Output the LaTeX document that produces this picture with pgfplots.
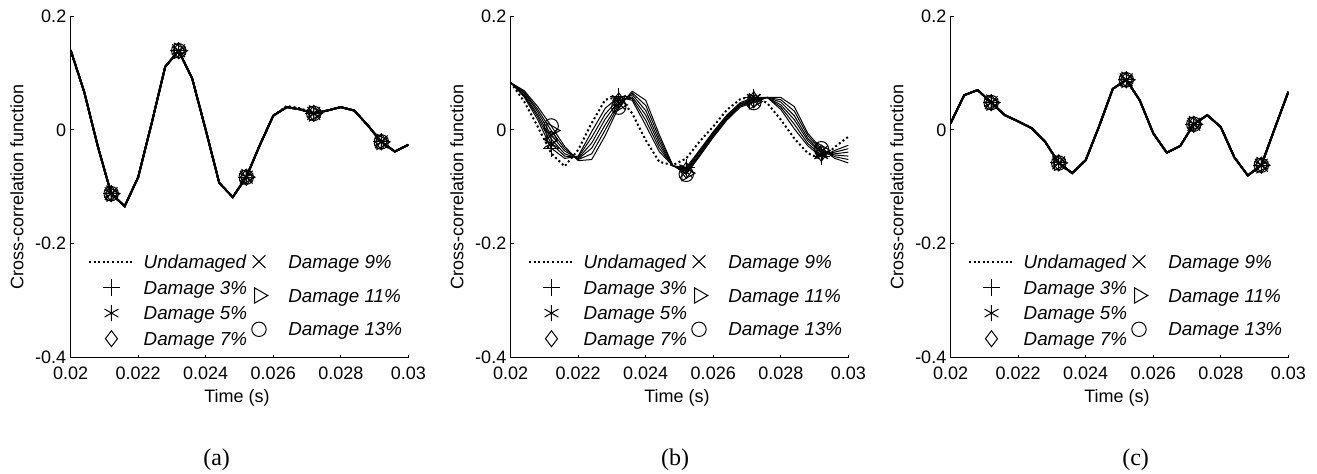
\documentclass[border=0pt]{standalone}
\usepackage{fontspec}
\setmainfont{Liberation Sans}
\newfontfamily\timesfont{Liberation Serif}
\usepackage{pgfplots}
\usepackage{pgfplotstable}
\pgfplotsset{compat=1.18}

\pgfplotstableread{
t u d
0.0200 0.140 0.140
0.0204 0.067 0.067
0.0208 -0.028 -0.028
0.0212 -0.112 -0.112
0.0216 -0.134 -0.134
0.0220 -0.083 -0.083
0.0224 0.012 0.012
0.0228 0.111 0.111
0.0232 0.139 0.139
0.0236 0.090 0.090
0.0240 0.000 0.000
0.0244 -0.093 -0.093
0.0248 -0.118 -0.118
0.0252 -0.083 -0.083
0.0256 -0.027 -0.027
0.0260 0.025 0.025
0.0264 0.042 0.040
0.0268 0.038 0.036
0.0272 0.029 0.029
0.0276 0.034 0.034
0.0280 0.040 0.040
0.0284 0.034 0.034
0.0288 0.008 0.008
0.0292 -0.021 -0.021
0.0296 -0.038 -0.038
0.0300 -0.026 -0.026
}\dataA

\pgfplotstableread{
t u d3 d5 d7 d9 d11 d13
0.0200 0.083 0.083 0.083 0.083 0.083 0.083 0.083
0.0204 0.050 0.058 0.060 0.062 0.065 0.067 0.069
0.0208 0.006 0.018 0.023 0.027 0.032 0.036 0.041
0.0212 -0.041 -0.032 -0.024 -0.016 -0.009 -0.001 0.007
0.0216 -0.064 -0.050 -0.046 -0.042 -0.037 -0.033 -0.029
0.0220 -0.035 -0.046 -0.048 -0.050 -0.051 -0.052 -0.054
0.0224 0.012 -0.003 -0.013 -0.023 -0.032 -0.042 -0.052
0.0228 0.053 0.038 0.028 0.019 0.009 0.000 -0.010
0.0232 0.058 0.058 0.054 0.051 0.047 0.044 0.040
0.0236 0.029 0.052 0.055 0.058 0.062 0.065 0.068
0.0240 -0.018 0.008 0.017 0.026 0.034 0.043 0.052
0.0244 -0.056 -0.038 -0.032 -0.026 -0.020 -0.014 -0.008
0.0248 -0.062 -0.063 -0.063 -0.063 -0.063 -0.062 -0.062
0.0252 -0.050 -0.066 -0.068 -0.071 -0.073 -0.076 -0.078
0.0256 -0.020 -0.035 -0.037 -0.039 -0.042 -0.044 -0.046
0.0260 0.006 -0.003 -0.005 -0.007 -0.009 -0.011 -0.013
0.0264 0.035 0.026 0.024 0.022 0.021 0.019 0.017
0.0268 0.054 0.048 0.046 0.045 0.043 0.042 0.040
0.0272 0.060 0.057 0.055 0.053 0.052 0.050 0.048
0.0276 0.047 0.057 0.057 0.057 0.057 0.057 0.057
0.0280 0.018 0.036 0.040 0.044 0.049 0.053 0.057
0.0284 -0.015 0.002 0.010 0.018 0.025 0.033 0.041
0.0288 -0.041 -0.028 -0.024 -0.019 -0.015 -0.010 -0.006
0.0292 -0.051 -0.047 -0.044 -0.041 -0.039 -0.036 -0.033
0.0296 -0.030 -0.036 -0.039 -0.042 -0.044 -0.047 -0.050
0.0300 -0.012 -0.027 -0.033 -0.039 -0.046 -0.052 -0.058
}\dataB

\pgfplotstableread{
t u d
0.0200 0.012 0.012
0.0204 0.061 0.061
0.0208 0.070 0.070
0.0212 0.048 0.048
0.0216 0.026 0.026
0.0220 0.015 0.015
0.0224 0.003 0.003
0.0228 -0.021 -0.021
0.0232 -0.058 -0.058
0.0236 -0.076 -0.076
0.0240 -0.053 -0.053
0.0244 0.007 0.007
0.0248 0.072 0.072
0.0252 0.088 0.088
0.0256 0.052 0.052
0.0260 -0.006 -0.006
0.0264 -0.040 -0.040
0.0268 -0.028 -0.028
0.0272 0.010 0.010
0.0276 0.026 0.026
0.0280 0.005 0.005
0.0284 -0.048 -0.048
0.0288 -0.080 -0.080
0.0292 -0.062 -0.062
0.0296 0.003 0.003
0.0300 0.067 0.067
}\dataC

\pgfplotsset{
  panel/.style={
    scale only axis, width=168.83pt, height=170.83pt, anchor=south west,
    xmin=0.02, xmax=0.03, ymin=-0.4, ymax=0.2,
    scaled x ticks=false, scaled y ticks=false,
    axis x line=bottom, axis y line=left,
    axis line style={-, line width=0.6pt, black},
    xtick={0.02,0.022,0.024,0.026,0.028,0.03},
    xticklabels={0.02,0.022,0.024,0.026,0.028,0.03},
    ytick={-0.4,-0.2,0,0.2}, yticklabels={-0.4,-0.2,0,0.2},
    tick align=inside, major tick length=1.5pt,
    tick style={black, line width=0.5pt},
    ticklabel style={font=\fontsize{9}{10}\selectfont},
    xticklabel style={inner sep=0pt, anchor=north, yshift=-4.65pt},
    yticklabel style={inner sep=0pt, anchor=east, xshift=-2pt},
    xlabel={Time (s)}, ylabel={Cross-correlation function},
    label style={font=\fontsize{9}{10}\selectfont},
    xlabel style={at={(axis description cs:0.4926,-0.117)}, anchor=center},
    ylabel style={at={(axis description cs:-0.159,0.5)}, anchor=center},
    legend image code/.code={\path[draw=none,fill=none] (0pt,-0.8pt) rectangle (22.5pt,7.4pt);
      \draw[mark repeat=2,mark phase=2,##1] plot coordinates {(0pt,3.3pt) (11.25pt,3.3pt) (22.5pt,3.3pt)};},
    legend cell align=left,
    legend style={draw=none, fill=none, inner sep=0pt, outer sep=0pt,
      anchor=north west, font=\itshape\fontsize{9.4}{10}\selectfont,
      cells={anchor=base west},
      nodes={inner sep=0pt, text height=7.4pt, text depth=1.9pt}},
  },
  leg1/.style={legend style={at={(axis description cs:0.0513,0.305)}, row sep=3.5pt,
      /tikz/every odd column/.append style={column sep=4.35pt}}},
  leg2/.style={hide axis, legend style={at={(axis description cs:0.4911,0.305)}, row sep=7.6pt,
      /tikz/every odd column/.append style={column sep=3.4pt}}},
  undam/.style={black, line width=1pt, dash pattern=on 1pt off 1.3pt},
  dmg/.style={black, line width=#1, mark repeat=5, mark phase=4},
  mP/.style={mark=+, mark size=4.2pt, mark options={solid, line width=0.5pt}},
  mA/.style={mark=asterisk, mark size=4.0pt, mark options={solid, line width=0.5pt}},
  mD/.style={mark=diamond, mark size=4.0pt, mark options={solid, line width=0.5pt}},
  mX/.style={mark=x, mark size=4.5pt, mark options={solid, line width=0.5pt}},
  mT/.style={mark=triangle, mark size=4.4pt, mark options={solid, line width=0.5pt, rotate=-90}},
  mO/.style={mark=o, mark size=3.6pt, mark options={solid, line width=0.5pt}},
  lgm/.style={only marks, black, #1},
}

\begin{document}
\begin{tikzpicture}
\useasboundingbox (0,0) rectangle (658.5pt,237pt);

% ---------- (a) ----------
\begin{axis}[panel, leg1, at={(35.33pt,58.15pt)}]
\addplot[undam, forget plot] table[x=t,y=u]{\dataA};
\addplot[dmg=0.9pt, mP, forget plot] table[x=t,y=d]{\dataA};
\addplot[dmg=0.9pt, mA, forget plot] table[x=t,y=d]{\dataA};
\addplot[dmg=0.9pt, mD, forget plot] table[x=t,y=d]{\dataA};
\addplot[dmg=0.9pt, mX, forget plot] table[x=t,y=d]{\dataA};
\addplot[dmg=0.9pt, mT, forget plot] table[x=t,y=d]{\dataA};
\addplot[dmg=0.9pt, mO, forget plot] table[x=t,y=d]{\dataA};
\addlegendimage{undam}\addlegendentry{Undamaged}
\addlegendimage{lgm=mP}\addlegendentry{Damage 3\%}
\addlegendimage{lgm=mA}\addlegendentry{Damage 5\%}
\addlegendimage{lgm=mD}\addlegendentry{Damage 7\%}
\end{axis}
\begin{axis}[panel, leg2, at={(35.33pt,58.15pt)}]
\addlegendimage{lgm=mX}\addlegendentry{Damage 9\%}
\addlegendimage{lgm=mT}\addlegendentry{Damage 11\%}
\addlegendimage{lgm=mO}\addlegendentry{Damage 13\%}
\end{axis}

% ---------- (b) ----------
\begin{axis}[panel, leg1, at={(255.33pt,58.15pt)}]
\addplot[undam, forget plot] table[x=t,y=u]{\dataB};
\addplot[dmg=0.5pt, mP, forget plot] table[x=t,y=d3]{\dataB};
\addplot[dmg=0.5pt, mA, forget plot] table[x=t,y=d5]{\dataB};
\addplot[dmg=0.5pt, mD, forget plot] table[x=t,y=d7]{\dataB};
\addplot[dmg=0.5pt, mX, forget plot] table[x=t,y=d9]{\dataB};
\addplot[dmg=0.5pt, mT, forget plot] table[x=t,y=d11]{\dataB};
\addplot[dmg=0.5pt, mO, forget plot] table[x=t,y=d13]{\dataB};
\addlegendimage{undam}\addlegendentry{Undamaged}
\addlegendimage{lgm=mP}\addlegendentry{Damage 3\%}
\addlegendimage{lgm=mA}\addlegendentry{Damage 5\%}
\addlegendimage{lgm=mD}\addlegendentry{Damage 7\%}
\end{axis}
\begin{axis}[panel, leg2, at={(255.33pt,58.15pt)}]
\addlegendimage{lgm=mX}\addlegendentry{Damage 9\%}
\addlegendimage{lgm=mT}\addlegendentry{Damage 11\%}
\addlegendimage{lgm=mO}\addlegendentry{Damage 13\%}
\end{axis}

% ---------- (c) ----------
\begin{axis}[panel, leg1, at={(475.33pt,58.15pt)}]
\addplot[undam, forget plot] table[x=t,y=u]{\dataC};
\addplot[dmg=0.9pt, mP, forget plot] table[x=t,y=d]{\dataC};
\addplot[dmg=0.9pt, mA, forget plot] table[x=t,y=d]{\dataC};
\addplot[dmg=0.9pt, mD, forget plot] table[x=t,y=d]{\dataC};
\addplot[dmg=0.9pt, mX, forget plot] table[x=t,y=d]{\dataC};
\addplot[dmg=0.9pt, mT, forget plot] table[x=t,y=d]{\dataC};
\addplot[dmg=0.9pt, mO, forget plot] table[x=t,y=d]{\dataC};
\addlegendimage{undam}\addlegendentry{Undamaged}
\addlegendimage{lgm=mP}\addlegendentry{Damage 3\%}
\addlegendimage{lgm=mA}\addlegendentry{Damage 5\%}
\addlegendimage{lgm=mD}\addlegendentry{Damage 7\%}
\end{axis}
\begin{axis}[panel, leg2, at={(475.33pt,58.15pt)}]
\addlegendimage{lgm=mX}\addlegendentry{Damage 9\%}
\addlegendimage{lgm=mT}\addlegendentry{Damage 11\%}
\addlegendimage{lgm=mO}\addlegendentry{Damage 13\%}
\end{axis}

\node[font=\timesfont\fontsize{12}{12}\selectfont] at (108.3pt,7pt) {(a)};
\node[font=\timesfont\fontsize{12}{12}\selectfont] at (337.5pt,7pt) {(b)};
\node[font=\timesfont\fontsize{12}{12}\selectfont] at (567.8pt,7pt) {(c)};
\end{tikzpicture}
\end{document}
